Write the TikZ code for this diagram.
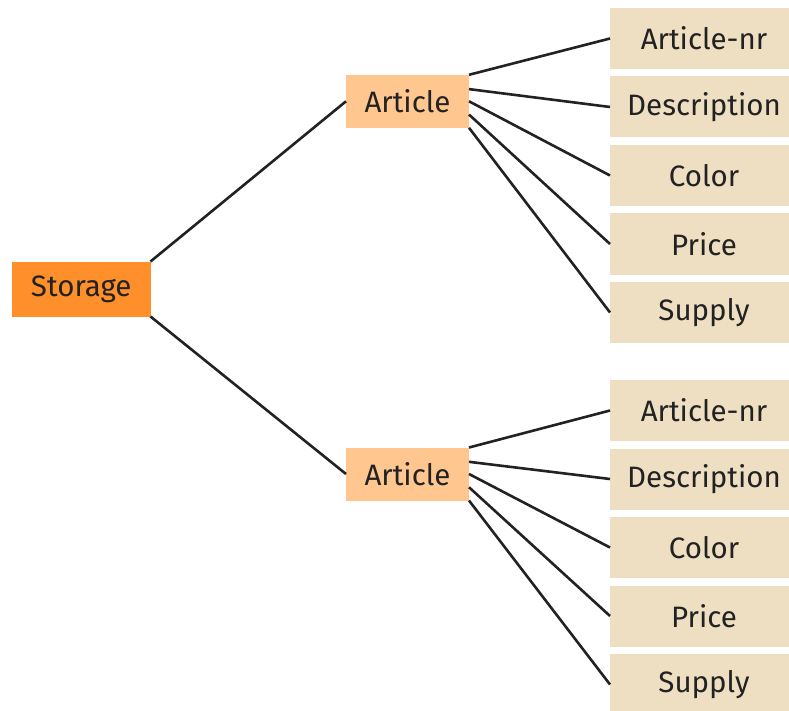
\documentclass[tikz,border=0pt]{standalone}
\usepackage{fontspec}
\setmainfont{Fira Sans}
\usetikzlibrary{calc}
\definecolor{rootfill}{RGB}{255,143,42}
\definecolor{entfill}{RGB}{255,199,143}
\definecolor{attrfill}{RGB}{239,223,194}
\definecolor{ink}{RGB}{34,34,34}
\tikzset{
  box/.style={draw=none, inner sep=0pt, outer sep=0pt, text=ink,
    font=\fontsize{29.5}{35}\selectfont},
  rootbox/.style={box, fill=rootfill, minimum width=138.5, minimum height=55},
  entbox/.style={box, fill=entfill, minimum width=123, minimum height=53},
  attrbox/.style={box, fill=attrfill, minimum width=188, minimum height=61},
  link/.style={draw=ink, line width=2.6pt}
}
\begin{document}
\begin{tikzpicture}[x=1pt, y=-1pt]
\useasboundingbox (0,0) rectangle (789,711);

\node[rootbox] (storage) at (81.25,289) {Storage};
\node[entbox] (art1) at (407.5,101.3) {Article};
\node[entbox] (art2) at (407.5,474) {Article};

% attribute columns
\foreach \g/\y in {1/38.5, 2/410.5} {
  \node[attrbox] (nr\g)    at (704,\y)       {Article-nr};
  \node[attrbox] (desc\g)  at (704,\y+68.5)  {Description};
  \node[attrbox] (col\g)   at (704,\y+137)   {Color};
  \node[attrbox] (price\g) at (704,\y+205.5) {Price};
  \node[attrbox] (sup\g)   at (704,\y+274)   {Supply};
}

% storage to articles
\draw[link] (storage.north east) -- (art1.west);
\draw[link] (storage.south east) -- (art2.west);

% articles to their attributes, fanned along the east side
\foreach \g in {1,2} {
  \draw[link] ($(art\g.north east)!0!(art\g.south east)$)    -- (nr\g.west);
  \draw[link] ($(art\g.north east)!0.27!(art\g.south east)$) -- (desc\g.west);
  \draw[link] ($(art\g.north east)!0.5!(art\g.south east)$)  -- (col\g.west);
  \draw[link] ($(art\g.north east)!0.75!(art\g.south east)$) -- (price\g.west);
  \draw[link] ($(art\g.north east)!1!(art\g.south east)$)    -- (sup\g.west);
}
\end{tikzpicture}
\end{document}
